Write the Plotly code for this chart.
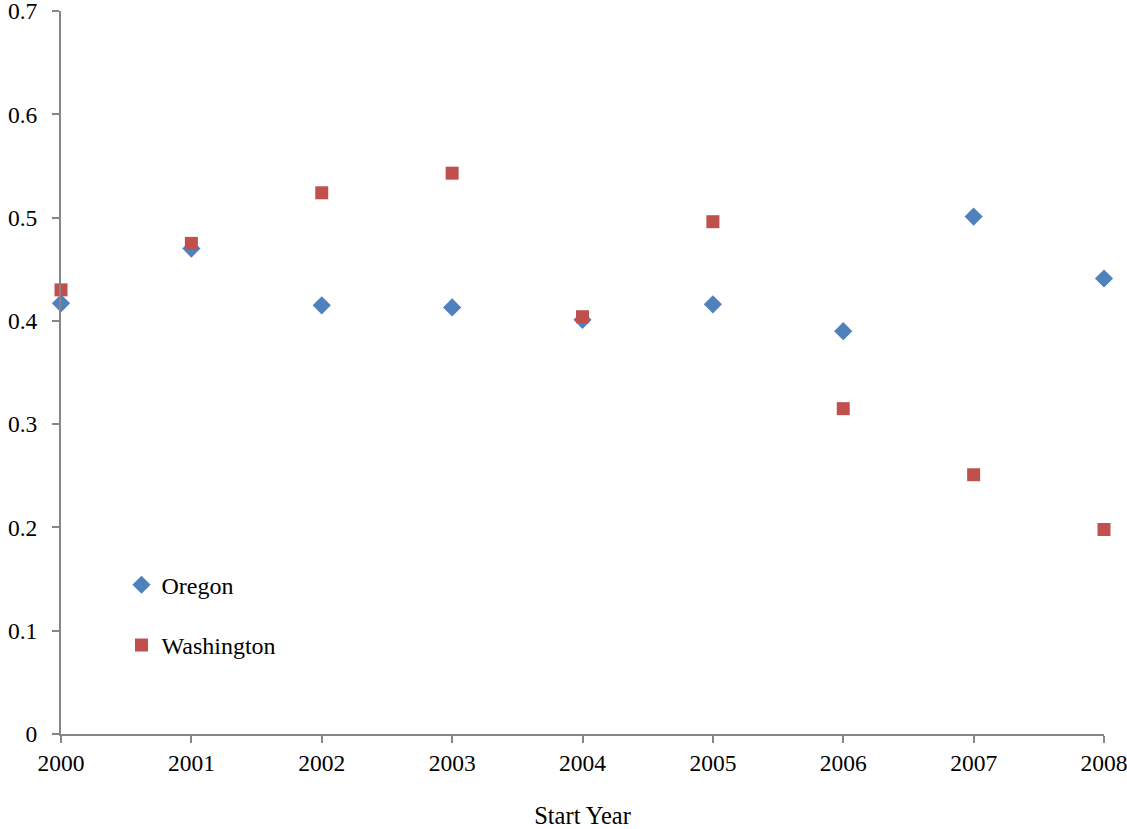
import plotly.graph_objects as go

years = [2000, 2001, 2002, 2003, 2004, 2005, 2006, 2007, 2008]
oregon = [0.417, 0.470, 0.415, 0.413, 0.401, 0.416, 0.390, 0.501, 0.441]
washington = [0.430, 0.475, 0.524, 0.543, 0.404, 0.496, 0.315, 0.251, 0.198]
ytick_vals = [0, 0.1, 0.2, 0.3, 0.4, 0.5, 0.6, 0.7]
ytick_text = ["0", "0.1", "0.2", "0.3", "0.4", "0.5", "0.6", "0.7"]

family = "Liberation Serif, Times New Roman, serif"
font = dict(family=family, size=23.5, color="black")
axis_color = "#868686"

fig = go.Figure()
fig.add_trace(go.Scatter(x=years, y=oregon, mode="markers", name="Oregon",
                         legendgroup="a",
                         marker=dict(symbol="diamond", size=14, color="#4F81BD"),
                         cliponaxis=False))
fig.add_trace(go.Scatter(x=years, y=washington, mode="markers", name="Washington",
                         legendgroup="b",
                         marker=dict(symbol="square", size=13, color="#C0504D"),
                         cliponaxis=False))

fig.update_layout(
    width=1127, height=829,
    margin=dict(l=61, r=23, t=11, b=95),
    paper_bgcolor="white", plot_bgcolor="white",
    font=font,
    showlegend=True,
    legend=dict(x=0.058, y=0.237, xanchor="left", yanchor="top",
                bgcolor="rgba(0,0,0,0)", tracegroupgap=26,
                font=dict(family=family, size=24, color="black"), itemwidth=30),
    xaxis=dict(range=[2000, 2008], tickmode="array", tickvals=years,
               ticktext=[str(y) for y in years],
               showgrid=False, zeroline=False, showline=True,
               linecolor=axis_color, linewidth=2, automargin=False,
               ticks="outside", ticklen=7, tickcolor=axis_color, tickwidth=2,
               ticklabelstandoff=0, ticklabeloverflow="allow",
               title=dict(text="Start Year", font=dict(family=family, size=24.5, color="black"),
                          standoff=32)),
    yaxis=dict(range=[0, 0.7], tickmode="array",
               tickvals=ytick_vals, ticktext=ytick_text,
               showgrid=False, zeroline=False, showline=True,
               linecolor=axis_color, linewidth=2, automargin=False,
               ticks="outside", ticklen=7, tickcolor=axis_color, tickwidth=2,
               ticklabelstandoff=10, ticklabeloverflow="allow"),
)

fig.write_html("out.html", config={"displayModeBar": False},
               post_script="document.body.style.margin='0';document.body.style.overflow='hidden';")
